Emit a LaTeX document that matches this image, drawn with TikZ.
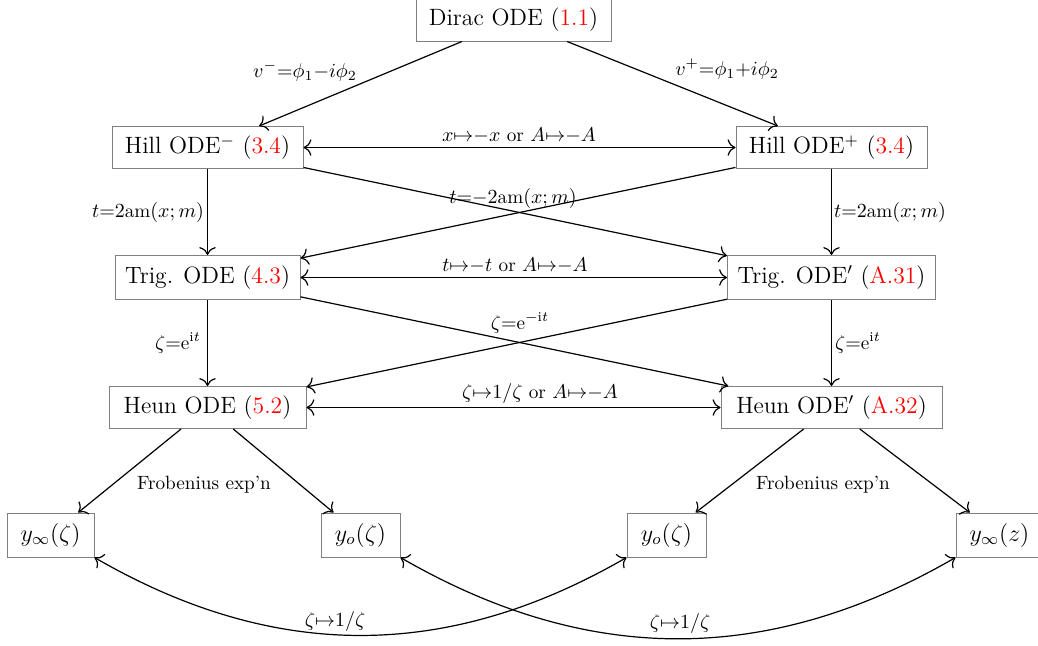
\documentclass[tikz,border=0pt]{standalone}
\usepackage{fontspec}
\usepackage{xcolor}
\usetikzlibrary{arrows.meta}
\tikzset{
  ode/.style={draw=gray, line width=0.5pt, minimum height=21pt, inner sep=1pt,
    font=\fontsize{11.8}{14}\selectfont},
  lab/.style={font=\fontsize{9.6}{11}\selectfont, inner sep=0pt},
  conn/.style={-{To[scale=1.35]}, line width=0.6pt},
  dconn/.style={{To[scale=1.35]}-{To[scale=1.35]}, line width=0.6pt}
}
\newcommand{\rf}[1]{\textcolor{red}{#1}}
\begin{document}
\begin{tikzpicture}[x=0.5pt,y=-0.5pt]
\useasboundingbox (0,0) rectangle (1038,645);
% main nodes
\node[ode, minimum width=97.5pt] (dirac) at (513.5,20) {Dirac ODE (\rf{1.1})};
\node[ode, minimum width=95.5pt] (hillm) at (207.5,147.5) {Hill ODE$^-$ (\rf{3.4})};
\node[ode, minimum width=95.5pt] (hillp) at (831.5,147.5) {Hill ODE$^+$ (\rf{3.4})};
\node[ode, minimum width=92.5pt, minimum height=22pt] (trig) at (207.5,277.5) {Trig. ODE (\rf{4.3})};
\node[ode, minimum width=104pt, minimum height=22pt] (trigp) at (831.5,277.5) {Trig. ODE$'$ (\rf{A.31})};
\node[ode, minimum width=98.5pt] (heun) at (207.5,407.5) {Heun ODE (\rf{5.2})};
\node[ode, minimum width=110.5pt] (heunp) at (831.5,407.5) {Heun ODE$'$ (\rf{A.32})};
\node[ode, minimum width=43.5pt, minimum height=22pt] (yinf) at (50.5,535) {$y_\infty(\zeta)$};
\node[ode, minimum width=39.5pt, minimum height=22pt] (yoa) at (360.5,535) {$y_o(\zeta)$};
\node[ode, minimum width=39.5pt, minimum height=22pt] (yob) at (666.5,535) {$y_o(\zeta)$};
\node[ode, minimum width=43.5pt, minimum height=22pt] (yinfz) at (999.5,535) {$y_\infty(z)$};
% connectors
\draw[conn] (dirac) -- (hillm);
\draw[conn] (dirac) -- (hillp);
\draw[dconn] (hillm) -- (hillp);
\draw[conn] (hillm) -- (trig);
\draw[conn] (hillp) -- (trigp);
\draw[conn] (hillm) -- (trigp);
\draw[conn] (hillp) -- (trig);
\draw[dconn] (trig) -- (trigp);
\draw[conn] (trig) -- (heun);
\draw[conn] (trigp) -- (heunp);
\draw[conn] (trig) -- (heunp);
\draw[conn] (trigp) -- (heun);
\draw[dconn] (heun) -- (heunp);
\draw[conn] (heun) -- (yinf);
\draw[conn] (heun) -- (yoa);
\draw[conn] (heunp) -- (yob);
\draw[conn] (heunp) -- (yinfz);
\draw[dconn] (yinf.south east) to[bend right=30] (yob.south west);
\draw[dconn] (yoa.south east) to[bend right=30] (yinfz.south west);
% labels
\node[lab] (lvm) at (305,71) {$v^-{=}\phi_1{-}i\phi_2$};
\node[lab] (lvp) at (727,69) {$v^+{=}\phi_1{+}i\phi_2$};
\node[lab] (lhh) at (519,135) {$x{\mapsto}{-x}$ or $A{\mapsto}{-A}$};
\node[lab] (lam1) at (148,212) {$t{=}2\mathrm{am}(x;m)$};
\node[lab] (lam2) at (890,212) {$t{=}2\mathrm{am}(x;m)$};
\node[lab] (lneg) at (513,198) {$t{=}{-2}\mathrm{am}(x;m)$};
\node[lab] (ltt) at (515,265) {$t{\mapsto}{-t}$ or $A{\mapsto}{-A}$};
\node[lab] (lez1) at (178,343) {$\zeta{=}\mathrm{e}^{\mathrm{i}t}$};
\node[lab] (lez2) at (858,343) {$\zeta{=}\mathrm{e}^{\mathrm{i}t}$};
\node[lab] (lemi) at (520,323) {$\zeta{=}\mathrm{e}^{-\mathrm{i}t}$};
\node[lab] (lzz) at (540,393) {$\zeta{\mapsto}1/\zeta$ or $A{\mapsto}{-A}$};
\node[lab] (frob1) at (204,485) {Frobenius exp'n};
\node[lab] (frob2) at (823,485) {Frobenius exp'n};
\node[lab] (lc1) at (335,621) {$\zeta{\mapsto}1/\zeta$};
\node[lab] (lc2) at (680,623) {$\zeta{\mapsto}1/\zeta$};
\end{tikzpicture}
\end{document}
